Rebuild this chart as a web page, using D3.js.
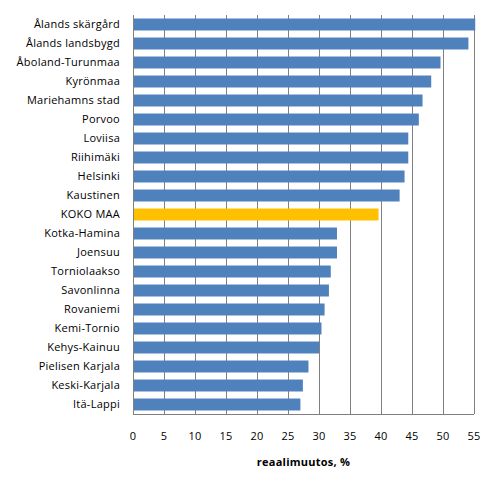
<!DOCTYPE html>
<html>
<head>
<meta charset="utf-8">
<script src="https://cdn.jsdelivr.net/npm/d3@7/dist/d3.min.js"></script>
<style>
	body { margin: 0; background: #fff; }
	svg text { font-family: "Open Sans", "DejaVu Sans", sans-serif; font-size: 11px; fill: #000; letter-spacing: 0.25px; }
	svg line { shape-rendering: crispEdges; }
</style>
</head>
<body>
<div id="chart"></div>
<script>
var regions = ["Ålands skärgård", "Ålands landsbygd", "Åboland-Turunmaa", "Kyrönmaa",
	"Mariehamns stad", "Porvoo", "Loviisa", "Riihimäki", "Helsinki", "Kaustinen",
	"KOKO MAA", "Kotka-Hamina", "Joensuu", "Torniolaakso", "Savonlinna", "Rovaniemi",
	"Kemi-Tornio", "Kehys-Kainuu", "Pielisen Karjala", "Keski-Karjala", "Itä-Lappi"];
var changes = [55.2, 54.1, 49.6, 48.1, 46.7, 46.1, 44.4, 44.4, 43.8, 43.0,
	39.6, 32.9, 32.9, 31.9, 31.6, 30.9, 30.4, 30.0, 28.3, 27.4, 27.0];
var ticks = [0, 5, 10, 15, 20, 25, 30, 35, 40, 45, 50, 55];
var axisTitle = "reaalimuutos, %";
var highlight = "KOKO MAA";

var width = 497, height = 487;
var plotLeft = 133, plotRight = 474, plotTop = 15, plotBottom = 414;

var svg = d3.select("#chart").append("svg")
	.attr("width", width)
	.attr("height", height);

var x = d3.scaleLinear().domain([0, 55]).range([plotLeft, plotRight]);
var y = d3.scaleBand().domain(regions).range([plotTop, plotBottom])
	.paddingInner(0.37).paddingOuter(0.185);

//gridlines
svg.append("g").selectAll("line")
	.data(ticks.slice(1))
	.enter().append("line")
	.attr("x1", d => x(d)).attr("x2", d => x(d))
	.attr("y1", plotTop).attr("y2", plotBottom)
	.attr("stroke", "#808080").attr("stroke-width", 1);

//bars
svg.append("g").selectAll("rect")
	.data(regions)
	.enter().append("rect")
	.attr("x", x(0))
	.attr("y", d => y(d))
	.attr("width", (d, i) => x(changes[i]) - x(0))
	.attr("height", y.bandwidth())
	.attr("fill", d => d == highlight ? "#FFC000" : "#4F81BD");

//axes lines
svg.append("line")
	.attr("x1", x(0)).attr("x2", x(0)).attr("y1", plotTop).attr("y2", plotBottom)
	.attr("stroke", "#808080");
svg.append("line")
	.attr("x1", x(0)).attr("x2", plotRight).attr("y1", plotBottom).attr("y2", plotBottom)
	.attr("stroke", "#808080");

//category labels
svg.append("g").selectAll("text")
	.data(regions)
	.enter().append("text")
	.attr("x", plotLeft - 13)
	.attr("y", d => y(d) + y.bandwidth() / 2)
	.attr("dy", "0.35em")
	.attr("text-anchor", "end")
	.text(d => d);

//tick labels
svg.append("g").selectAll("text")
	.data(ticks)
	.enter().append("text")
	.attr("x", d => x(d))
	.attr("y", 436)
	.attr("dy", "0.35em")
	.attr("text-anchor", "middle")
	.text(d => d);

svg.append("text")
	.attr("x", (plotLeft + plotRight) / 2)
	.attr("y", 462)
	.attr("dy", "0.35em")
	.attr("text-anchor", "middle")
	.style("font-weight", "bold")
	.text(axisTitle);
</script>
</body>
</html>
